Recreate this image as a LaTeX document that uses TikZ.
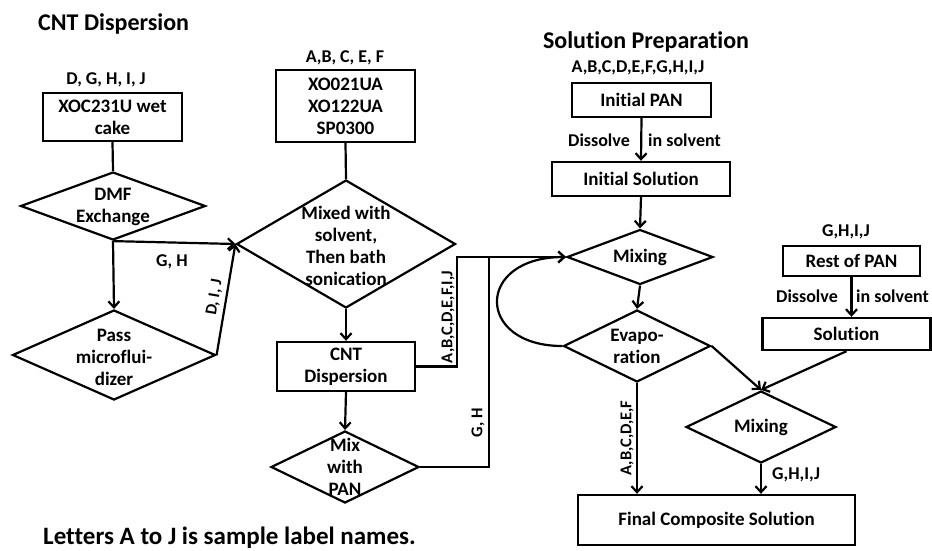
\documentclass[tikz,border=0pt]{standalone}
\usepackage{fontspec}
\setmainfont{Carlito}[Ligatures={NoCommon}]
\usetikzlibrary{shapes.geometric,arrows.meta}
\tikzset{
  base/.style={font=\bfseries\fontsize{19}{22}\selectfont},
  ttl/.style={font=\bfseries\fontsize{24}{28}\selectfont, inner sep=0pt},
  lbl/.style={font=\bfseries\fontsize{18}{22}\selectfont, inner sep=0pt},
  rlbl/.style={font=\bfseries\fontsize{16.5}{20}\selectfont, inner sep=0pt, rotate=90},
  boxn/.style={draw, line width=2.4pt, rectangle, base, align=center, inner sep=0pt},
  dia/.style={draw, line width=2.2pt, diamond, inner sep=0pt},
  dtext/.style={base, align=center, inner sep=0pt},
  ln/.style={line width=2.2pt},
  arr/.style={line width=2.2pt, -{Straight Barb[length=6pt,width=11pt]}},
}
\begin{document}
\begin{tikzpicture}[x=1pt,y=-1pt]
\useasboundingbox (0,0) rectangle (932,550);

% ---------- CNT dispersion ----------
\node[ttl, anchor=west] (t1) at (38,24) {CNT Dispersion};
\node[lbl] (l1) at (106,80) {D, G, H, I, J};
\node[boxn, minimum width=139pt, minimum height=48pt] (b1) at (112.5,117) {XOC231U wet\\cake};
\node[dia, minimum width=185pt, minimum height=68pt] (dmf) at (113,206) {};
\node[dtext] (dmft) at (113,207) {DMF\\Exchange};
\node[dia, minimum width=203pt, minimum height=90pt] (pass) at (114,355) {};
\node[dtext] (passt) at (114,357) {Pass\\microflui-\\dizer};

\node[lbl] (l2) at (345,58) {A,B, C, E, F};
\node[boxn, minimum width=139pt, minimum height=72pt] (b2) at (345.5,106) {XO021UA\\XO122UA\\SP0300};
\node[dia, minimum width=219pt, minimum height=128pt] (mixed) at (346,244) {};
\node[dtext] (mixedt) at (346,245.5) {Mixed with\\solvent,\\Then bath\\sonication};
\node[boxn, minimum width=138pt, minimum height=49pt] (cnt) at (346,366.5) {CNT\\Dispersion};
\node[dia, minimum width=148pt, minimum height=72pt] (mixpan) at (345,467) {};
\node[dtext] (mixpant) at (345,467) {Mix\\with\\PAN};

\draw[ln] (b1.south) -- (dmf.north);
\draw[arr] (dmf.south) -- (pass.north);
\draw[arr] (dmf.south) -- (mixed.west);
\node[lbl] (gh1) at (172,262) {G, H};
\draw[arr] (pass.east) -- node[rlbl, rotate=-90, midway, sloped, above=4pt] (dij) {D, I, J} (mixed.west);
\draw[ln] (b2.south) -- (mixed.north);
\draw[arr] (mixed.south) -- (cnt.north);
\draw[arr] (cnt.south) -- (mixpan.north);

% ---------- Solution preparation ----------
\node[ttl] (t2) at (646,42) {Solution Preparation};
\node[lbl] (l3) at (638,68) {A,B,C,D,E,F,G,H,I,J};
\node[boxn, minimum width=139pt, minimum height=34pt] (ipan) at (641.5,100) {Initial PAN};
\node[boxn, minimum width=178pt, minimum height=34pt] (isol) at (641,179) {Initial Solution};
\node[lbl, anchor=east] (d1a) at (630,140) {Dissolve};
\node[lbl, anchor=west] (d1b) at (648,140) {in solvent};
\node[dia, minimum width=146pt, minimum height=55pt] (mix1) at (640,257) {};
\node[dtext] (mix1t) at (640,257) {Mixing};
\node[dia, minimum width=147pt, minimum height=72pt] (evap) at (637,346) {};
\node[dtext] (evapt) at (637,346) {Evapo-\\ration};

\node[lbl] (l4) at (846,232) {G,H,I,J};
\node[boxn, minimum width=137pt, minimum height=30pt] (rpan) at (851.5,261) {Rest of PAN};
\node[lbl, anchor=east] (d2a) at (838,296) {Dissolve};
\node[lbl, anchor=west] (d2b) at (856,296) {in solvent};
\node[boxn, minimum width=168pt, minimum height=32pt] (sol) at (846.5,334) {Solution};
\node[dia, minimum width=150pt, minimum height=72pt] (mix2) at (761,427) {};
\node[dtext] (mix2t) at (761,427) {Mixing};
\node[boxn, minimum width=277pt, minimum height=50pt] (final) at (716.5,520) {Final Composite Solution};

\coordinate (j1) at (457,257);
\coordinate (j2) at (489,257);
\draw[arr] (cnt.east) -- (cnt.east -| j1) -- (j1) -- (mix1.west);
\node[rlbl] (abc1) at (448,317) {A,B,C,D,E,F,I,J};
\draw[ln] (mixpan.east) -- (mixpan.east -| j2) -- (j2);
\node[rlbl] (gh2) at (478,423) {G, H};
\draw[arr] (evap.west) .. controls (475,346) and (475,257) .. (mix1.west);

\draw[arr] (ipan.south) -- (isol.north);
\draw[arr] (isol.south) -- (mix1.north);
\draw[arr] (mix1.south) -- (evap.north);
\draw[arr] (evap.east) -- (mix2.north);
\draw[arr] (rpan.south) -- (rpan.south |- sol.north);
\draw[arr] (sol.south) -- (mix2.north);
\draw[arr] (evap.south) -- (evap.south |- final.north);
\node[rlbl] (abc2) at (627,438) {A,B,C,D,E,F};
\draw[arr] (mix2.south) -- (mix2.south |- final.north);
\node[lbl, anchor=west] (ghij) at (772,475) {G,H,I,J};

\node[font=\bfseries\fontsize{25}{28}\selectfont, inner sep=0pt, anchor=west] (note) at (43,538) {Letters A to J is sample label names.};
\end{tikzpicture}
\end{document}
